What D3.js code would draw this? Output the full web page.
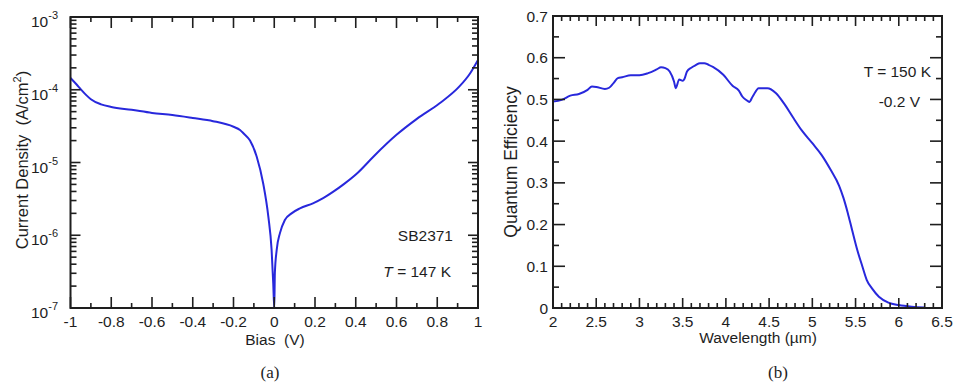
<!DOCTYPE html>
<html><head><meta charset="utf-8">
<script src="https://cdn.jsdelivr.net/npm/d3@7"></script>
<style>
html,body{margin:0;padding:0;background:#fff;}
svg{display:block;font-family:"Liberation Sans",Arial,Helvetica,sans-serif;}
</style></head>
<body>
<svg id="c" width="953" height="385"></svg>
<script>
// ---------- Data: panel (a) I-V ----------
const biasV = [-1.00,-0.97,-0.95,-0.92,-0.90,-0.85,-0.80,-0.70,-0.60,-0.50,-0.40,-0.30,-0.20,-0.168,-0.15,-0.119,-0.086,-0.054,-0.029,-0.013,-0.005,0.0,0.003,0.012,0.028,0.052,0.085,0.126,0.19,0.24,0.29,0.34,0.41,0.49,0.60,0.70,0.81,0.91,0.96,1.00];
const currentDensity = [1.45e-4,1.18e-4,1.02e-4,8.3e-5,7.4e-5,6.3e-5,5.8e-5,5.3e-5,4.8e-5,4.5e-5,4.1e-5,3.7e-5,3.1e-5,2.8e-5,2.5e-5,2.0e-5,1.2e-5,5.1e-6,1.8e-6,6.3e-7,2.2e-7,1.0e-7,3.0e-7,6.3e-7,1.07e-6,1.62e-6,2.0e-6,2.34e-6,2.75e-6,3.24e-6,3.98e-6,5.01e-6,7.24e-6,1.23e-5,2.4e-5,3.98e-5,6.46e-5,1.12e-4,1.66e-4,2.57e-4];
const biasTicks = [-1,-0.8,-0.6,-0.4,-0.2,0,0.2,0.4,0.6,0.8,1];
const biasTickLabels = ["-1","-0.8","-0.6","-0.4","-0.2","0","0.2","0.4","0.6","0.8","1"];
const jDecades = [1e-7,1e-6,1e-5,1e-4,1e-3];
const jExponents = ["-7","-6","-5","-4","-3"];

// ---------- Data: panel (b) QE ----------
const wavelength = [2.0,2.1,2.2,2.3,2.4,2.45,2.5,2.6,2.65,2.7,2.75,2.8,2.9,3.0,3.1,3.2,3.25,3.3,3.35,3.4,3.42,3.46,3.5,3.52,3.55,3.6,3.65,3.7,3.75,3.8,3.85,3.97,4.08,4.15,4.19,4.24,4.27,4.31,4.38,4.48,4.58,4.67,4.77,4.88,5.0,5.11,5.21,5.31,5.36,5.41,5.46,5.52,5.58,5.63,5.69,5.77,5.88,6.0,6.15,6.3];
const quantumEff = [0.495,0.499,0.509,0.513,0.523,0.531,0.530,0.525,0.528,0.539,0.551,0.553,0.558,0.558,0.563,0.572,0.577,0.575,0.567,0.543,0.527,0.548,0.545,0.549,0.567,0.576,0.582,0.587,0.587,0.583,0.578,0.559,0.532,0.521,0.507,0.498,0.494,0.507,0.527,0.527,0.515,0.491,0.459,0.425,0.395,0.366,0.332,0.293,0.264,0.228,0.187,0.139,0.099,0.067,0.047,0.027,0.013,0.007,0.003,0.001];
const wlTicks = [2,2.5,3,3.5,4,4.5,5,5.5,6,6.5];
const wlTickLabels = ["2","2.5","3","3.5","4","4.5","5","5.5","6","6.5"];
const qeTicks = [0,0.1,0.2,0.3,0.4,0.5,0.6,0.7];
const qeTickLabels = ["0","0.1","0.2","0.3","0.4","0.5","0.6","0.7"];

const svg = d3.select("#c");
const INK = "#1e1e1e";
const BLUE = "#2828dc";

function frame(g, x0, x1, y0, y1){
  g.append("rect").attr("x",x0).attr("y",y0).attr("width",x1-x0).attr("height",y1-y0)
   .attr("fill","none").attr("stroke",INK).attr("stroke-width",2);
}
function ticksX(g, xs, vals, y0, y1, len){
  vals.forEach(v=>{
    const x = xs(v);
    g.append("line").attr("x1",x).attr("x2",x).attr("y1",y1).attr("y2",y1-len).attr("stroke",INK).attr("stroke-width",1.6);
    g.append("line").attr("x1",x).attr("x2",x).attr("y1",y0).attr("y2",y0+len).attr("stroke",INK).attr("stroke-width",1.6);
  });
}
function ticksY(g, ys, vals, x0, x1, len){
  vals.forEach(v=>{
    const y = ys(v);
    g.append("line").attr("x1",x0).attr("x2",x0+len).attr("y1",y).attr("y2",y).attr("stroke",INK).attr("stroke-width",1.6);
    g.append("line").attr("x1",x1).attr("x2",x1-len).attr("y1",y).attr("y2",y).attr("stroke",INK).attr("stroke-width",1.6);
  });
}

// ================= Panel (a) =================
{
  const x0=70.5, x1=478, y0=17, y1=308;
  const xs = d3.scaleLinear().domain([-1,1]).range([x0,x1]);
  const ys = d3.scaleLog().domain([1e-7,1e-3]).range([y1,y0]);
  const g = svg.append("g");

  const clipId="clipA";
  svg.append("clipPath").attr("id",clipId).append("rect").attr("x",x0).attr("y",y0).attr("width",x1-x0).attr("height",y1-y0+1);
  const line = d3.line().x((d,i)=>xs(biasV[i])).y(d=>ys(d)).curve(d3.curveMonotoneX);
  g.append("path").datum(currentDensity).attr("d",line).attr("fill","none")
   .attr("stroke",BLUE).attr("stroke-width",2).attr("clip-path",`url(#${clipId})`);

  const minorX = d3.range(-9,10,2).map(k=>k/10);
  ticksX(g, xs, minorX, y0, y1, 5);
  ticksX(g, xs, biasTicks, y0, y1, 11);
  const minorY=[];
  for(let e=-7;e<-3;e++) for(let m=2;m<=9;m++) minorY.push(m*Math.pow(10,e));
  ticksY(g, ys, minorY, x0, x1, 6);
  ticksY(g, ys, jDecades, x0, x1, 10);
  frame(g,x0,x1,y0,y1);

  biasTicks.forEach((v,i)=>{
    g.append("text").attr("x",xs(v)).attr("y",y1+18.5).attr("text-anchor","middle")
     .attr("font-size",15.5).attr("fill",INK).text(biasTickLabels[i]);
  });
  jDecades.forEach((v,i)=>{
    const t = g.append("text").attr("x",58).attr("y",ys(v)+10).attr("text-anchor","end")
     .attr("font-size",15.5).attr("fill",INK).text("10");
    t.append("tspan").attr("dy",-8).attr("font-size",11).text(jExponents[i]);
  });
  g.append("text").attr("x",275).attr("y",345).attr("text-anchor","middle").attr("font-size",15.5).attr("fill",INK)
   .attr("xml:space","preserve").text("Bias  (V)");
  const yt = g.append("text").attr("transform","translate(27.5,160) rotate(-90)").attr("text-anchor","middle")
   .attr("font-size",16.5).attr("fill",INK).attr("xml:space","preserve").text("Current Density  (A/cm");
  yt.append("tspan").attr("dy",-7).attr("font-size",11).text("2");
  yt.append("tspan").attr("dy",7).text(")");
  g.append("text").attr("x",453).attr("y",240.5).attr("text-anchor","end").attr("font-size",15.5).attr("fill",INK).text("SB2371");
  const ta = g.append("text").attr("x",451).attr("y",277).attr("text-anchor","end").attr("font-size",15.5).attr("fill",INK);
  ta.append("tspan").attr("font-style","italic").text("T");
  ta.append("tspan").text(" = 147 K");
  g.append("text").attr("x",270).attr("y",378).attr("text-anchor","middle").attr("font-family","'Liberation Serif','Times New Roman',serif")
   .attr("font-size",17).attr("fill",INK).text("(a)");
}

// ================= Panel (b) =================
{
  const x0=553, x1=942, y0=16, y1=308;
  const xs = d3.scaleLinear().domain([2,6.5]).range([x0,x1]);
  const ys = d3.scaleLinear().domain([0,0.7]).range([y1,y0]);
  const g = svg.append("g");

  const line = d3.line().x((d,i)=>xs(wavelength[i])).y(d=>ys(d)).curve(d3.curveMonotoneX);
  g.append("path").datum(quantumEff).attr("d",line).attr("fill","none")
   .attr("stroke",BLUE).attr("stroke-width",2);

  const minorX = d3.range(20,66).filter(k=>k%5!==0).map(k=>k/10);
  ticksX(g, xs, minorX, y0, y1, 5);
  ticksX(g, xs, wlTicks, y0, y1, 10);
  const minorY = d3.range(1,14,2).map(k=>k/20);
  ticksY(g, ys, minorY, x0, x1, 6);
  ticksY(g, ys, qeTicks, x0, x1, 12);
  frame(g,x0,x1,y0,y1);

  wlTicks.forEach((v,i)=>{
    g.append("text").attr("x",xs(v)).attr("y",y1+18.5).attr("text-anchor","middle")
     .attr("font-size",15.5).attr("fill",INK).text(wlTickLabels[i]);
  });
  qeTicks.forEach((v,i)=>{
    g.append("text").attr("x",548).attr("y",ys(v)+5.5).attr("text-anchor","end")
     .attr("font-size",15.5).attr("fill",INK).text(qeTickLabels[i]);
  });
  g.append("text").attr("x",758).attr("y",343).attr("text-anchor","middle").attr("font-size",15.5).attr("fill",INK)
   .text("Wavelength (\u00B5m)");
  g.append("text").attr("transform","translate(517,162) rotate(-90)").attr("text-anchor","middle")
   .attr("font-size",17.5).attr("fill",INK).text("Quantum Efficiency");
  g.append("text").attr("x",931).attr("y",76.5).attr("text-anchor","end").attr("font-size",15.5).attr("fill",INK).text("T = 150 K");
  g.append("text").attr("x",920).attr("y",107).attr("text-anchor","end").attr("font-size",15.5).attr("fill",INK).text("-0.2 V");
  g.append("text").attr("x",778).attr("y",378).attr("text-anchor","middle").attr("font-family","'Liberation Serif','Times New Roman',serif")
   .attr("font-size",17).attr("fill",INK).text("(b)");
}
</script>
</body></html>
